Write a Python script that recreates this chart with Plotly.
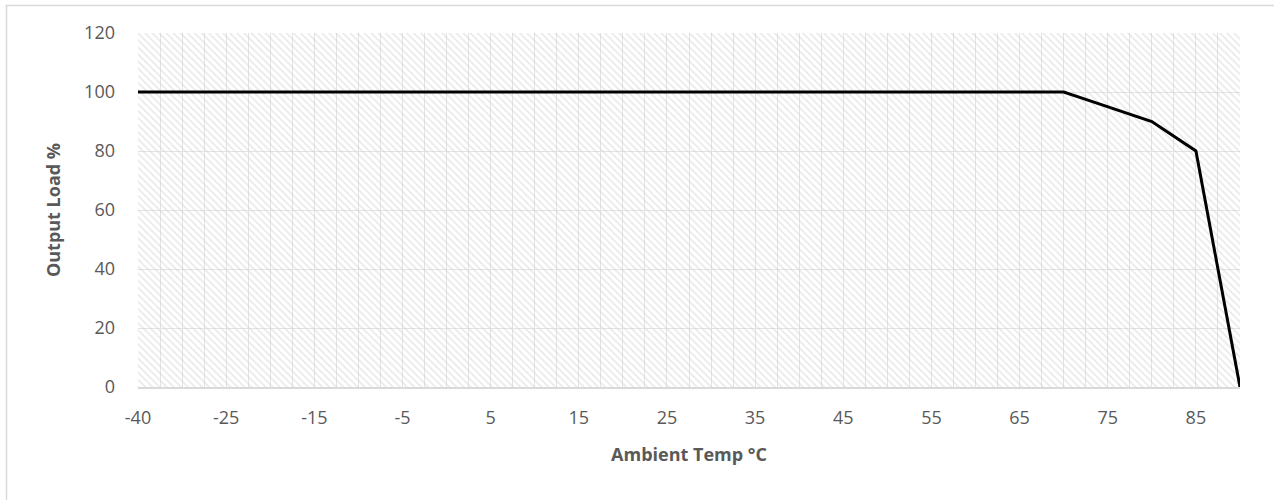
import plotly.graph_objects as go

# ---- data ----
temps = ["-40", "-35", "-30", "-27.5", "-25", "-22.5", "-20", "-17.5", "-15", "-12.5",
         "-10", "-7.5", "-5", "-2.5", "0", "2.5", "5", "7.5", "10", "12.5",
         "15", "17.5", "20", "22.5", "25", "27.5", "30", "32.5", "35", "37.5",
         "40", "42.5", "45", "47.5", "50", "52.5", "55", "57.5", "60", "62.5",
         "65", "67.5", "70", "72.5", "75", "77.5", "80", "82.5", "85", "87.5", "90"]
load = [100, 100, 100, 100, 100, 100, 100, 100, 100, 100,
        100, 100, 100, 100, 100, 100, 100, 100, 100, 100,
        100, 100, 100, 100, 100, 100, 100, 100, 100, 100,
        100, 100, 100, 100, 100, 100, 100, 100, 100, 100,
        100, 100, 100, 97.5, 95, 92.5, 90, 85, 80, 40, 0]
tick_labels = ["-40", "-25", "-15", "-5", "5", "15", "25", "35", "45", "55", "65", "75", "85"]
y_max = 120

ticktext = [t if t in tick_labels else "" for t in temps]

FONT = "Open Sans"
GREY = "#595959"

fig = go.Figure()

# plot-area hatch background
fig.add_trace(go.Scatter(
    x=temps, y=[y_max] * len(temps), mode="none", fill="tozeroy",
    fillcolor="rgba(0,0,0,0)",
    fillpattern=dict(shape="\\", size=5, solidity=0.3, fgcolor="#d0d0d0",
                     bgcolor="rgba(0,0,0,0)"),
    hoverinfo="skip", showlegend=False,
))

fig.add_trace(go.Scatter(
    x=temps, y=load, mode="lines",
    line=dict(color="#000000", width=3),
    showlegend=False,
))

fig.update_layout(
    width=1274, height=500,
    margin=dict(l=138, r=34, t=33, b=113),
    paper_bgcolor="white", plot_bgcolor="white",
    font=dict(family=FONT, size=18, color=GREY),
    xaxis=dict(
        type="category", range=[0, len(temps) - 1],
        tickmode="array", tickvals=temps, ticktext=ticktext,
        showgrid=True, gridcolor="#e3e3e3", gridwidth=1,
        showline=True, linecolor="#d9d9d9", linewidth=1.5,
        ticks="", ticklabelstandoff=14,
        tickfont=dict(family=FONT, size=18, color=GREY),
        title=dict(text="<b>Ambient Temp °C</b>", standoff=20,
                   font=dict(family=FONT, size=18, color=GREY)),
        zeroline=False,
    ),
    yaxis=dict(
        range=[0, y_max], dtick=20,
        showgrid=True, gridcolor="#e3e3e3", gridwidth=1,
        showline=False, ticks="", ticklabelstandoff=22,
        tickfont=dict(family=FONT, size=18, color=GREY),
        title=dict(text="<b>Output Load %</b>", standoff=18,
                   font=dict(family=FONT, size=18, color=GREY)),
        zeroline=False,
    ),
    shapes=[dict(type="rect", xref="paper", yref="paper",
                 x0=(6.5 - 138) / 1102, x1=1.2, y0=-0.6, y1=1 + (33 - 5.5) / 354,
                 line=dict(color="#d9d9d9", width=1.5), fillcolor="rgba(0,0,0,0)",
                 layer="below")],
)

fig.write_html("out.html", config={"displayModeBar": False},
               post_script="document.body.style.margin='0';")
